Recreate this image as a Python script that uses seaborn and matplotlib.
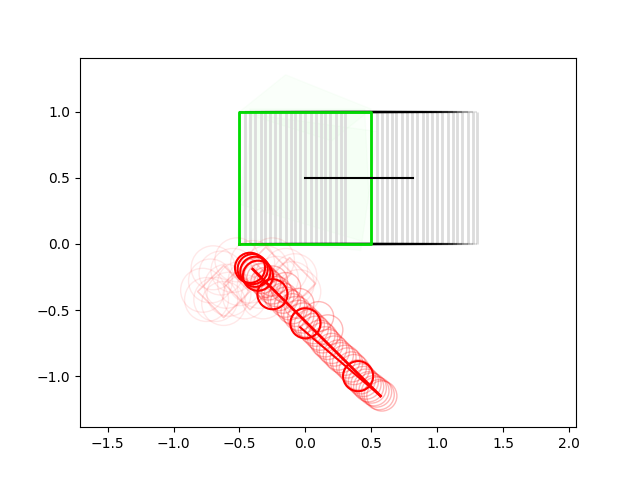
import matplotlib
matplotlib.use('Agg')
import matplotlib.pyplot as plt
import seaborn as sns
import pandas as pd
from matplotlib.patches import Polygon

# %% data
# cart centre positions (trail), cart is 1 wide and 1 high
cart_x = [0.00, 0.04, 0.08, 0.12, 0.16, 0.19, 0.23, 0.27, 0.31, 0.35, 0.39,
          0.42, 0.46, 0.50, 0.54, 0.58, 0.62, 0.65, 0.69, 0.73, 0.77, 0.80]
cart_alpha = [1.0, 1.0, 0.95, 0.95, 0.9, 0.9, 0.9, 0.85, 0.85, 0.85, 0.8,
              0.8, 0.8, 0.75, 0.75, 0.7, 0.65, 0.6, 0.5, 0.4, 0.3, 0.2]
current_cart = [-0.5, 0.5, 0.5, -0.5, -0.5]
current_cart_y = [0.0, 0.0, 1.0, 1.0, 0.0]
centre_x = [0.0, 0.82]
centre_y = [0.5, 0.5]

# faint rotated cart ghosts (green)
ghost_1 = [(-0.5, 1.0), (-0.15, 1.28), (0.5, 1.02), (0.2, 0.78)]
ghost_2 = [(-0.5, 0.3), (-0.42, 1.02), (0.45, 1.02), (0.5, 0.0)]
ghost_3 = [(-0.52, 0.05), (0.42, -0.05), (0.55, 0.85), (-0.4, 0.98)]

# pole lines
pole_x = [-0.40, 0.57]
pole_y = [-0.19, -1.15]
pole2_x = [-0.04, 0.57]
pole2_y = [-0.63, -1.15]

# bob positions, solid
bob_x = [-0.42, -0.40, -0.38, -0.36, -0.25, 0.00, 0.40]
bob_y = [-0.18, -0.19, -0.21, -0.24, -0.38, -0.60, -1.00]
# bob positions, faint trail
trail_x = [-0.38, -0.35, -0.33, -0.30, -0.28, -0.25, -0.22, -0.20, -0.17, -0.15,
           -0.12, -0.10, -0.07, -0.05, -0.02, 0.01, 0.03, 0.06, 0.08, 0.11,
           0.13, 0.15, 0.17, 0.20, 0.22, 0.25, 0.27, 0.30, 0.32, 0.35,
           0.37, 0.40, 0.42, 0.44, 0.46, 0.48, 0.50, 0.52, 0.54, 0.56, 0.58,
           0.17, -0.05, -0.15, -0.25, 0.10]
trail_y = [-0.22, -0.24, -0.26, -0.29, -0.31, -0.34, -0.36, -0.39, -0.41, -0.44,
           -0.46, -0.49, -0.51, -0.54, -0.56, -0.59, -0.61, -0.64, -0.66, -0.69,
           -0.71, -0.74, -0.76, -0.79, -0.81, -0.84, -0.86, -0.88, -0.90, -0.93,
           -0.95, -0.99, -1.02, -1.04, -1.06, -1.08, -1.09, -1.11, -1.12, -1.14, -1.15,
           -0.65, -0.45, -0.33, -0.28, -0.55]
cloud_x = [-0.78, -0.72, -0.68, -0.64, -0.60, -0.55, -0.50, -0.46, -0.42, -0.35,
           -0.30, -0.22, -0.15, -0.10, -0.05, -0.62, -0.70, -0.25, -0.52, -0.75,
           -0.58, -0.40, -0.08, -0.32]
cloud_y = [-0.35, -0.28, -0.42, -0.22, -0.32, -0.20, -0.30, -0.40, -0.28, -0.32,
           -0.18, -0.26, -0.20, -0.30, -0.36, -0.45, -0.18, -0.12, -0.12, -0.42,
           -0.38, -0.14, -0.24, -0.40]
square_x = [-0.62, -0.42, -0.12, -0.30]
square_y = [-0.36, -0.30, -0.30, -0.22]

bobs = pd.DataFrame({'x': bob_x, 'y': bob_y})
trail = pd.DataFrame({'x': trail_x, 'y': trail_y})
cloud = pd.DataFrame({'x': cloud_x, 'y': cloud_y})
squares = pd.DataFrame({'x': square_x, 'y': square_y})

# %% plot
fig, ax = plt.subplots(figsize=(6.4, 4.8), dpi=100)

# faint green ghosts behind everything
for g in [ghost_1, ghost_2, ghost_3]:
    ax.add_patch(Polygon(g, closed=True, facecolor='#00ff00', edgecolor='#00dd00',
                         alpha=0.02, lw=1, zorder=0.5))

# cart trail: grey sides, black top/bottom
for cx in cart_x:
    ax.vlines([cx - 0.5, cx + 0.5], 0, 1, color='#dcdcdc', lw=2, zorder=1)
for cx, a in zip(cart_x, cart_alpha):
    ax.hlines([0, 1], cx - 0.5, cx + 0.5, color='black', lw=1.5, alpha=a * 0.5, zorder=2)

sns.lineplot(x=current_cart, y=current_cart_y, sort=False, estimator=None,
             color='#00dd00', lw=2, ax=ax, zorder=3)
sns.lineplot(x=centre_x, y=centre_y, sort=False, estimator=None, color='black',
             lw=1.5, ax=ax, zorder=3)

# faint bob trail
sns.scatterplot(data=cloud, x='x', y='y', s=1000, facecolors='none', edgecolor='red',
                linewidth=1, alpha=0.09, ax=ax, zorder=3)
sns.scatterplot(data=squares, x='x', y='y', marker='D', s=700, facecolors='none',
                edgecolor='red', linewidth=1.2, alpha=0.18, ax=ax, zorder=3)
sns.scatterplot(data=trail, x='x', y='y', s=470, facecolors='none', edgecolor='red',
                linewidth=1, alpha=0.28, ax=ax, zorder=4)

sns.lineplot(x=pole_x, y=pole_y, sort=False, estimator=None, color='red', lw=2,
             ax=ax, zorder=5)
sns.lineplot(x=pole2_x, y=pole2_y, sort=False, estimator=None, color='red', lw=1.5,
             ax=ax, zorder=5)
sns.scatterplot(data=bobs, x='x', y='y', s=470, facecolors='none', edgecolor='red',
                linewidth=1.5, ax=ax, zorder=6)

ax.set_xlim(-1.71, 2.053)
ax.set_ylim(-1.386, 1.41)
ax.set_xlabel('')
ax.set_ylabel('')
ax.set_xticks([-1.5, -1.0, -0.5, 0.0, 0.5, 1.0, 1.5, 2.0])
ax.set_yticks([-1.0, -0.5, 0.0, 0.5, 1.0])

plt.savefig('out.png', dpi=100)
